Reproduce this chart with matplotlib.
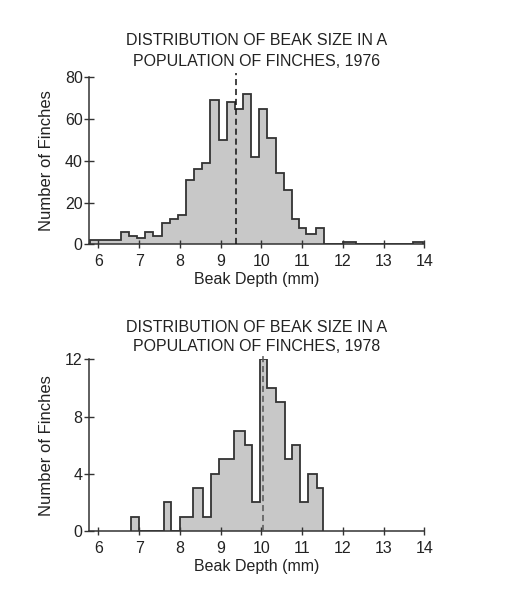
import matplotlib
matplotlib.use("Agg")
import matplotlib.pyplot as plt

plt.rcParams['font.family'] = ['Liberation Sans', 'DejaVu Sans']

# ---- data ----
top_title = "DISTRIBUTION OF BEAK SIZE IN A\nPOPULATION OF FINCHES, 1976"
bot_title = "DISTRIBUTION OF BEAK SIZE IN A\nPOPULATION OF FINCHES, 1978"
x_label = "Beak Depth (mm)"
y_label = "Number of Finches"

top_edges = [5.8, 6.55, 6.75, 6.95, 7.15, 7.35, 7.55, 7.75, 7.95, 8.15, 8.35,
             8.55, 8.75, 8.95, 9.15, 9.35, 9.55, 9.75, 9.95, 10.15, 10.35,
             10.55, 10.75, 10.92, 11.1, 11.35, 11.55, 12.0, 12.33, 13.72, 13.98]
top_counts = [2, 6, 4, 3, 6, 4, 10, 12, 14, 31, 36, 39, 69, 50, 68, 65, 72,
              42, 65, 51, 34, 26, 12, 8, 5, 8, 0, 1, 0, 1]
top_mean = 9.38

bot_edges = [6.8, 7.0, 7.6, 7.78, 8.0, 8.33, 8.56, 8.77, 8.95, 9.33, 9.6,
             9.78, 9.96, 10.15, 10.35, 10.57, 10.75, 10.96, 11.14, 11.37, 11.52]
bot_counts = [1, 0, 2, 0, 1, 3, 1, 4, 5, 7, 6, 2, 12, 10, 9, 5, 6, 2, 4, 3]
bot_mean = 10.04

x_ticks = [6, 7, 8, 9, 10, 11, 12, 13, 14]
top_yticks = [0, 20, 40, 60, 80]
bot_yticks = [0, 4, 8, 12]

W, H = 508, 598
fig = plt.figure(figsize=(W / 100, H / 100), dpi=100)


def make_axes(px_left, px_right, px_top, px_bottom):
    return fig.add_axes([px_left / W, 1 - px_bottom / H,
                         (px_right - px_left) / W, (px_bottom - px_top) / H])


def draw(ax, edges, counts, mean, yticks, title, ymax, mean_color,
         title_pad, title_ls):
    ax.stairs(counts, edges, fill=True, color='#c8c8c8', linewidth=0)
    ax.stairs(counts, edges, fill=False, color='#333333', linewidth=1.3)
    ax.plot([mean, mean], [0, ymax * 1.025], linestyle=(0, (4, 2.5)),
            color=mean_color, linewidth=1.1, clip_on=False, zorder=5)
    ax.set_xlim(5.77, 14.0)
    ax.set_ylim(0, ymax)
    for s in ['top', 'right']:
        ax.spines[s].set_visible(False)
    for s in ['left', 'bottom']:
        ax.spines[s].set_color('#333333')
        ax.spines[s].set_linewidth(1.1)
    ax.set_xticks(x_ticks)
    ax.set_yticks(yticks)
    ax.tick_params(axis='x', direction='inout', length=6, width=1,
                   color='#333333', labelsize=11.5, pad=4, labelcolor='#222222')
    ax.tick_params(axis='y', direction='inout', length=7, width=1,
                   color='#333333', labelsize=11.5, pad=1, labelcolor='#222222')
    ax.set_xlabel(x_label, fontsize=11.5, labelpad=2, color='#222222')
    ax.set_ylabel(y_label, fontsize=12, labelpad=8, color='#222222')
    ax.set_title(title, fontsize=11.5, pad=title_pad, linespacing=title_ls,
                 color='#222222')


ax1 = make_axes(89, 424.3, 77.3, 244.3)
draw(ax1, top_edges, top_counts, top_mean, top_yticks, top_title, 80,
     '#111111', 8, 1.5)

ax2 = make_axes(89, 424.3, 359.3, 531)
draw(ax2, bot_edges, bot_counts, bot_mean, bot_yticks, bot_title, 12,
     '#555555', 6, 1.3)

fig.savefig("out.png", dpi=100)
